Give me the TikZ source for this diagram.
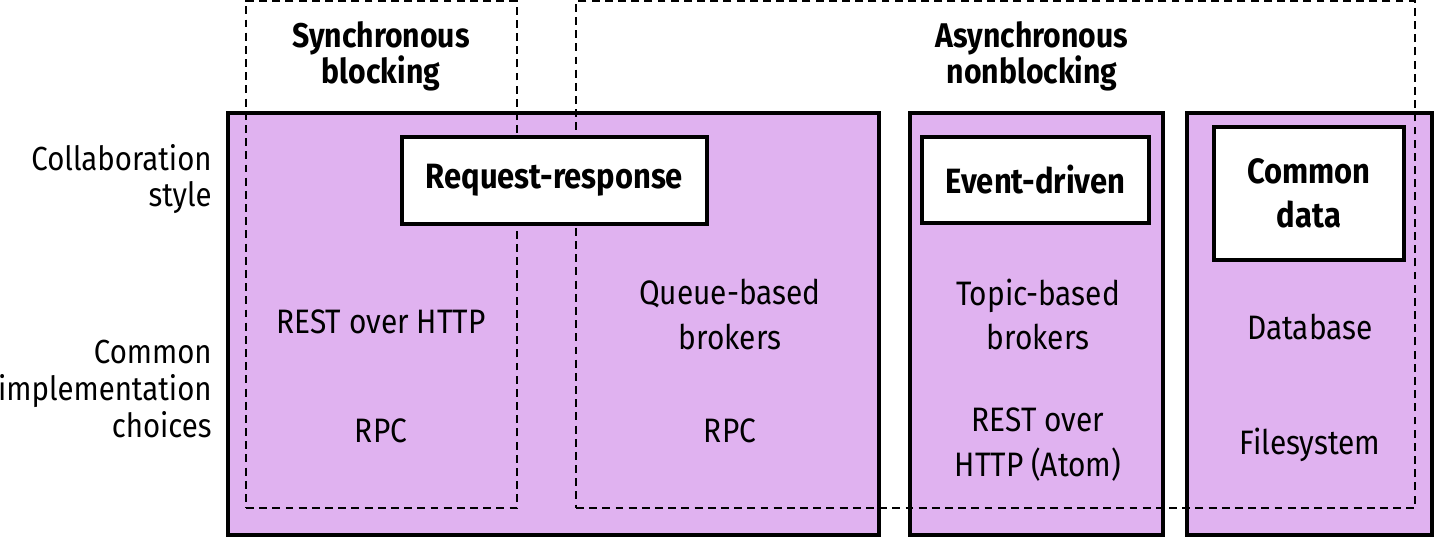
\documentclass[tikz,border=0pt]{standalone}
\usepackage{fontspec}
\setmainfont{Fira Sans}[FakeStretch=0.88]
\usetikzlibrary{positioning}
\definecolor{lanecolor}{RGB}{224,178,240}

\begin{document}
\begin{tikzpicture}[
  lane/.style={
    draw=black,
    line width=2.3pt,
    fill=lanecolor,
    minimum width=#1,
    minimum height=8.44cm,
    inner sep=0pt
  },
  scopebox/.style={
    draw=black,
    line width=0.85pt,
    dash pattern=on 4.5pt off 3pt,
    minimum width=#1,
    minimum height=10.14cm,
    inner sep=0pt
  },
  stylebox/.style={
    draw=black,
    line width=2.3pt,
    fill=white,
    align=center,
    font=\fontsize{20}{25}\selectfont\bfseries,
    inner sep=0pt
  },
  head/.style={align=center, font=\fontsize{19.5}{20.5}\selectfont\bfseries},
  impl/.style={align=center, font=\fontsize{19.3}{25.5}\selectfont},
  rowlabel/.style={align=right, anchor=east, inner sep=0pt, font=\fontsize{19}{21}\selectfont}
]
\useasboundingbox (0,0) rectangle (28.68,-10.76);

% -------- Lanes --------
\node[lane=13.02cm] (rr) at (11.07,-6.48) {};
\node[lane=5.06cm] (ev) at (20.73,-6.48) {};
\node[lane=4.90cm] (cd) at (26.19,-6.48) {};

% -------- Sync / async scopes --------
\node[scopebox=5.42cm] (sync) at (7.63,-5.09) {};
\node[scopebox=16.78cm] (async) at (19.91,-5.09) {};
\node[head] (synclbl) at (7.62,-1.12) {Synchronous\\blocking};
\node[head] (asynclbl) at (20.64,-1.12) {Asynchronous\\nonblocking};

% -------- Collaboration styles --------
\node[stylebox, minimum width=6.10cm, minimum height=1.74cm] (rrbox) at (11.09,-3.61) {Request-response};
\node[stylebox, minimum width=4.54cm, minimum height=1.72cm] (evbox) at (20.71,-3.60) {Event-driven};
\node[stylebox, minimum width=3.80cm, minimum height=2.66cm] (cdbox) at (26.18,-3.87) {Common\\data};

% -------- Row labels --------
\node[rowlabel] (collab) at (4.24,-3.58) {Collaboration\\style};
\node[rowlabel] (choices) at (4.24,-7.78) {Common\\implementation\\choices};

% -------- Implementation choices --------
\node[impl] (rest) at (7.62,-6.44) {REST over HTTP};
\node[impl] (rpcsync) at (7.62,-8.62) {RPC};
\node[impl] (queue) at (14.60,-6.29) {Queue-based\\brokers};
\node[impl] (rpcasync) at (14.60,-8.62) {RPC};
\node[impl] (topic) at (20.76,-6.29) {Topic-based\\brokers};
\node[impl] (atom) at (20.76,-8.89) {REST over\\HTTP (Atom)};
\node[impl] (db) at (26.20,-6.54) {Database};
\node[impl] (fs) at (26.20,-8.90) {Filesystem};

\end{tikzpicture}
\end{document}
